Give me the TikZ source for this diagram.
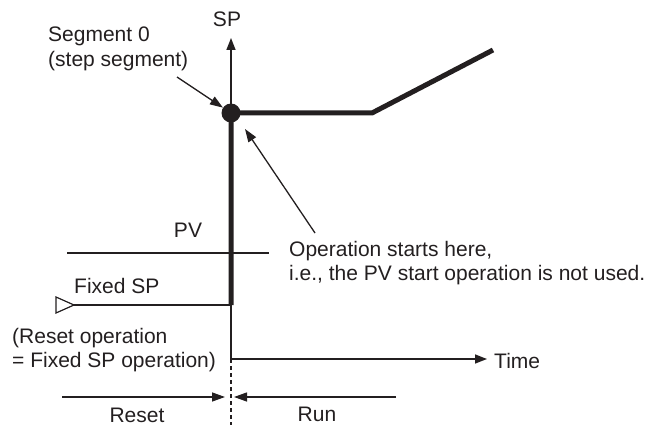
\documentclass[tikz,border=0pt]{standalone}
\usepackage{fontspec}
\setmainfont{Liberation Sans}
\usepackage{xcolor}
\usetikzlibrary{arrows.meta,positioning}

\definecolor{ink}{HTML}{231F20}

\begin{document}
\begin{tikzpicture}[
  x=1pt, y=-1pt,
  font=\fontsize{21}{24.5}\selectfont,
  every node/.style={text=ink},
  txt/.style={inner sep=0pt},
  multi/.style={inner sep=0pt, align=left, anchor=north west},
  profile/.style={draw=ink, line width=5pt},
  axis/.style={draw=ink, line width=1.5pt, -{Triangle[length=12pt,width=9pt]}},
  pointer/.style={draw=ink, line width=1.3pt, -{Triangle[length=13pt,width=9pt]}},
  level/.style={draw=ink, line width=1.2pt},
  dot/.style={circle, fill=ink, minimum size=19pt, inner sep=0pt}
  ]
\useasboundingbox (0,0) rectangle (651,425);

% axes
\coordinate (origin) at (231,359);
\coordinate (sptop) at (231,38);
\coordinate (timeend) at (487,359);
\coordinate (bottom) at (231,430);
\draw[axis] (origin) -- (sptop);
\draw[axis] (origin) -- (timeend);
\draw[draw=ink, line width=1.5pt, dash pattern=on 4pt off 3pt] (origin) -- (bottom);
\node[txt, anchor=base] (splabel) at (227,27) {SP};
\node[txt, anchor=base west] (timelabel) at (494,368) {Time};

% PV level
\coordinate (pvstart) at (67,253);
\coordinate (pvend) at (269,253);
\draw[level] (pvstart) -- (pvend);
\node[txt, anchor=base] (pvlabel) at (188,237) {PV};

% fixed SP level
\coordinate (fixtip) at (74,305);
\coordinate (stepfoot) at (231,305);
\draw[level] (56,297) -- (fixtip) -- (56,313) -- cycle;
\draw[level] (fixtip) -- (stepfoot);
\node[txt, anchor=base west] (fixlabel) at (74,293) {Fixed SP};
\node[multi] (resetnote) at (12,328)
  {(Reset operation\\= Fixed SP operation)};

% program profile
\node[dot] (seg0) at (231,113) {};
\coordinate (flatend) at (372,113);
\coordinate (rampend) at (493,50);
\draw[profile] (stepfoot) -- (seg0.center) -- (flatend) -- (rampend);

% callouts
\node[multi] (seglabel) at (48,27) {Segment 0\\(step segment)};
\coordinate (segtail) at (177,77);
\draw[pointer] (segtail) -- (seg0);
\node[multi] (oplabel) at (289,241)
  {Operation starts here,\\i.e., the PV start operation is not used.};
\coordinate (optail) at (315,233);
\coordinate (ophead) at (245,129);
\draw[pointer] (optail) -- (ophead);

% reset / run spans
\coordinate (resetstart) at (62,397);
\coordinate (resetend) at (225,397);
\coordinate (runstart) at (396,397);
\coordinate (runend) at (234,397);
\draw[pointer] (resetstart) -- (resetend);
\draw[pointer] (runstart) -- (runend);
\node[txt, anchor=base] (resetlabel) at (137,422) {Reset};
\node[txt, anchor=base] (runlabel) at (317,421) {Run};

\end{tikzpicture}
\end{document}
